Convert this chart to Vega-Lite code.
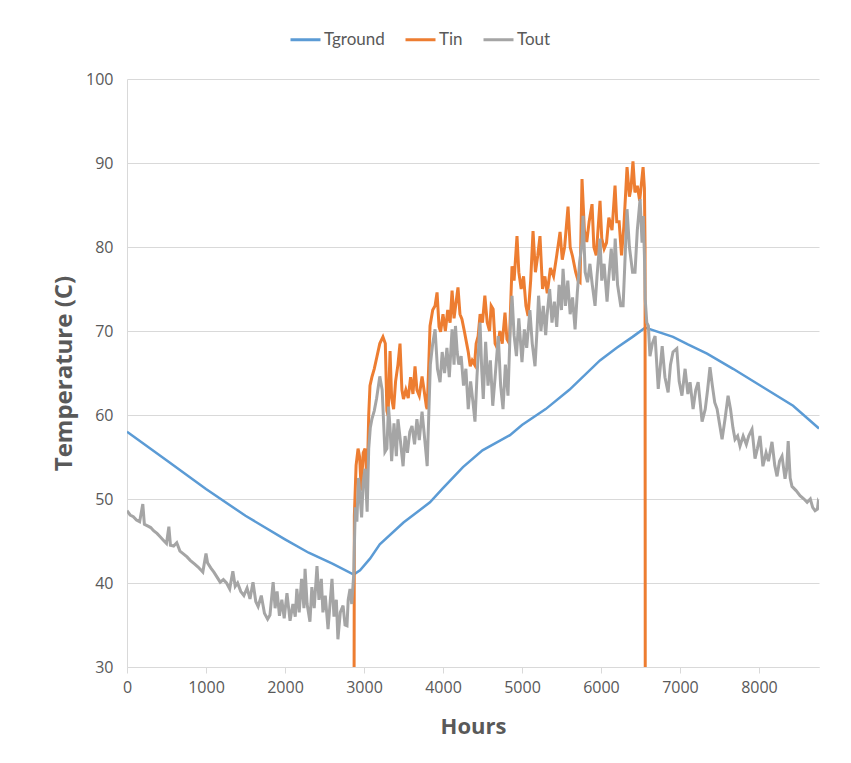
{
  "$schema": "https://vega.github.io/schema/vega-lite/v6.json",
  "width": 692,
  "height": 588,
  "autosize": "none",
  "padding": {"left": 127, "top": 79, "right": 32, "bottom": 96},
  "background": "white",
  "config": {
    "view": {"stroke": null},
    "axis": {"labelFont": "Open Sans", "titleFont": "Open Sans", "labelColor": "#595959", "titleColor": "#595959", "labelFontSize": 16, "titleFontSize": 21, "titleFontWeight": "bold", "domainColor": "#D9D9D9", "tickColor": "#D9D9D9", "gridColor": "#D9D9D9"}
  },
  "encoding": {
    "x": {"field": "h", "type": "quantitative", "title": "Hours",
      "scale": {"domain": [0, 8760], "nice": false},
      "axis": {"values": [0, 1000, 2000, 3000, 4000, 5000, 6000, 7000, 8000], "format": "d", "grid": false, "tickSize": 6, "labelPadding": 6, "labelFlush": false, "titlePadding": 21, "titleFontSize": 22}},
    "y": {"field": "t", "type": "quantitative", "title": "Temperature (C)",
      "scale": {"domain": [30, 100], "nice": false},
      "axis": {"values": [30, 40, 50, 60, 70, 80, 90, 100], "ticks": false, "labelPadding": 14, "titlePadding": 9, "titleFontSize": 24}},
    "color": {"datum": "Tground", "type": "nominal",
      "scale": {"domain": ["Tground", "Tin", "Tout"], "range": ["#5B9BD5", "#ED7D31", "#A5A5A5"]},
      "legend": {"title": null, "orient": "none", "direction": "horizontal", "legendX": 162, "legendY": -56, "symbolType": "stroke", "symbolSize": 900, "symbolStrokeWidth": 3, "labelFont": "Lato", "labelFontSize": 17, "labelColor": "#595959", "columnPadding": 14, "labelOffset": 2}}
  },
  "layer": [
    {
      "data": {"values": [
        {"h":0,"t":58.0},{"h":500,"t":54.6},{"h":1000,"t":51.2},{"h":1500,"t":48.0},{"h":2000,"t":45.2},{"h":2300,"t":43.6},{"h":2600,"t":42.3},{"h":2870,"t":41.0},{"h":2950,"t":41.5},{"h":3076,"t":42.9},{"h":3200,"t":44.6},{"h":3500,"t":47.2},{"h":3835,"t":49.6},{"h":4000,"t":51.3},{"h":4253,"t":53.8},{"h":4500,"t":55.8},{"h":4848,"t":57.6},{"h":5000,"t":58.8},{"h":5300,"t":60.7},{"h":5600,"t":63.0},{"h":5987,"t":66.5},{"h":6200,"t":68.0},{"h":6400,"t":69.3},{"h":6560,"t":70.4},{"h":6912,"t":69.3},{"h":7100,"t":68.4},{"h":7343,"t":67.3},{"h":7672,"t":65.5},{"h":8052,"t":63.3},{"h":8432,"t":61.1},{"h":8760,"t":58.4}
      ]},
      "mark": {"type": "line", "strokeWidth": 2.5, "clip": true},
      "encoding": {"color": {"datum": "Tground"}}
    },
    {
      "data": {"values": [
        {"h":2870,"t":0},{"h":2878,"t":48.0},{"h":2900,"t":54.0},{"h":2925,"t":56.0},{"h":2945,"t":55.0},{"h":2965,"t":51.0},{"h":2990,"t":55.5},{"h":3013,"t":56.0},{"h":3040,"t":52.0},{"h":3060,"t":60.0},{"h":3076,"t":63.5},{"h":3100,"t":64.5},{"h":3130,"t":65.5},{"h":3165,"t":67.0},{"h":3200,"t":68.5},{"h":3240,"t":69.3},{"h":3270,"t":68.5},{"h":3290,"t":60.5},{"h":3305,"t":59.9},{"h":3330,"t":67.6},{"h":3350,"t":62.0},{"h":3375,"t":60.7},{"h":3400,"t":64.0},{"h":3430,"t":66.0},{"h":3456,"t":68.5},{"h":3480,"t":63.0},{"h":3500,"t":61.9},{"h":3530,"t":63.0},{"h":3560,"t":62.0},{"h":3590,"t":64.5},{"h":3620,"t":62.5},{"h":3646,"t":65.8},{"h":3670,"t":63.0},{"h":3700,"t":62.3},{"h":3735,"t":64.6},{"h":3760,"t":63.0},{"h":3790,"t":61.0},{"h":3800,"t":60.7},{"h":3820,"t":66.0},{"h":3836,"t":70.6},{"h":3870,"t":72.5},{"h":3900,"t":73.0},{"h":3925,"t":74.6},{"h":3950,"t":70.5},{"h":3970,"t":69.9},{"h":4000,"t":72.0},{"h":4030,"t":70.0},{"h":4060,"t":72.5},{"h":4090,"t":71.0},{"h":4115,"t":74.8},{"h":4140,"t":71.5},{"h":4160,"t":73.0},{"h":4190,"t":75.2},{"h":4215,"t":72.0},{"h":4240,"t":71.4},{"h":4270,"t":70.0},{"h":4300,"t":68.5},{"h":4320,"t":67.5},{"h":4345,"t":65.8},{"h":4370,"t":66.5},{"h":4400,"t":66.0},{"h":4420,"t":68.5},{"h":4445,"t":69.4},{"h":4470,"t":72.0},{"h":4500,"t":71.0},{"h":4530,"t":74.2},{"h":4560,"t":71.0},{"h":4590,"t":70.0},{"h":4610,"t":73.0},{"h":4635,"t":72.6},{"h":4660,"t":68.5},{"h":4690,"t":67.9},{"h":4720,"t":70.0},{"h":4750,"t":68.5},{"h":4785,"t":72.2},{"h":4810,"t":69.0},{"h":4840,"t":68.5},{"h":4860,"t":74.0},{"h":4874,"t":77.7},{"h":4900,"t":76.0},{"h":4937,"t":81.3},{"h":4960,"t":77.0},{"h":4990,"t":75.0},{"h":5020,"t":76.5},{"h":5050,"t":73.0},{"h":5077,"t":71.8},{"h":5110,"t":76.0},{"h":5140,"t":81.9},{"h":5170,"t":77.0},{"h":5200,"t":79.0},{"h":5228,"t":81.3},{"h":5260,"t":75.0},{"h":5290,"t":76.5},{"h":5320,"t":74.5},{"h":5360,"t":77.5},{"h":5400,"t":76.5},{"h":5440,"t":79.0},{"h":5482,"t":81.8},{"h":5510,"t":78.5},{"h":5540,"t":80.0},{"h":5583,"t":84.8},{"h":5610,"t":80.0},{"h":5640,"t":78.9},{"h":5680,"t":77.0},{"h":5710,"t":76.0},{"h":5735,"t":75.8},{"h":5760,"t":88.1},{"h":5790,"t":82.0},{"h":5820,"t":80.6},{"h":5850,"t":83.0},{"h":5887,"t":85.1},{"h":5910,"t":80.0},{"h":5940,"t":79.0},{"h":5988,"t":85.5},{"h":6010,"t":81.0},{"h":6040,"t":79.8},{"h":6070,"t":80.5},{"h":6100,"t":83.5},{"h":6140,"t":82.0},{"h":6178,"t":87.3},{"h":6200,"t":83.0},{"h":6230,"t":83.0},{"h":6260,"t":79.0},{"h":6290,"t":82.5},{"h":6330,"t":89.5},{"h":6360,"t":86.0},{"h":6380,"t":87.0},{"h":6405,"t":90.2},{"h":6430,"t":86.5},{"h":6460,"t":87.3},{"h":6490,"t":85.5},{"h":6533,"t":89.5},{"h":6550,"t":87.0},{"h":6558,"t":80.0},{"h":6562,"t":0}
      ]},
      "mark": {"type": "line", "strokeWidth": 3, "clip": true},
      "encoding": {"color": {"datum": "Tin"}}
    },
    {
      "data": {"values": [
        {"h":0,"t":48.6},{"h":40,"t":48.1},{"h":80,"t":47.9},{"h":120,"t":47.5},{"h":160,"t":47.3},{"h":200,"t":49.4},{"h":220,"t":47.0},{"h":260,"t":46.8},{"h":300,"t":46.6},{"h":340,"t":46.2},{"h":380,"t":45.9},{"h":420,"t":45.5},{"h":460,"t":45.1},{"h":500,"t":44.7},{"h":530,"t":46.7},{"h":550,"t":44.5},{"h":590,"t":44.4},{"h":630,"t":44.8},{"h":670,"t":43.8},{"h":710,"t":43.5},{"h":760,"t":43.1},{"h":800,"t":42.7},{"h":850,"t":42.3},{"h":900,"t":41.9},{"h":960,"t":41.3},{"h":1000,"t":43.5},{"h":1020,"t":42.4},{"h":1060,"t":41.8},{"h":1100,"t":41.3},{"h":1140,"t":40.7},{"h":1180,"t":40.1},{"h":1220,"t":40.4},{"h":1260,"t":40.0},{"h":1300,"t":39.3},{"h":1340,"t":41.4},{"h":1370,"t":39.6},{"h":1400,"t":40.0},{"h":1440,"t":39.0},{"h":1480,"t":38.5},{"h":1520,"t":39.4},{"h":1557,"t":38.1},{"h":1595,"t":40.1},{"h":1630,"t":37.8},{"h":1660,"t":37.2},{"h":1700,"t":38.5},{"h":1740,"t":36.4},{"h":1780,"t":35.7},{"h":1810,"t":36.2},{"h":1850,"t":40.1},{"h":1875,"t":37.0},{"h":1900,"t":39.0},{"h":1930,"t":36.1},{"h":1960,"t":38.0},{"h":1990,"t":35.8},{"h":2025,"t":38.8},{"h":2064,"t":35.5},{"h":2100,"t":37.5},{"h":2130,"t":36.0},{"h":2150,"t":39.3},{"h":2180,"t":36.5},{"h":2210,"t":40.5},{"h":2240,"t":37.0},{"h":2254,"t":41.7},{"h":2280,"t":37.5},{"h":2316,"t":35.4},{"h":2340,"t":39.5},{"h":2370,"t":37.0},{"h":2405,"t":42.0},{"h":2430,"t":38.0},{"h":2460,"t":40.5},{"h":2480,"t":36.5},{"h":2510,"t":38.5},{"h":2545,"t":34.5},{"h":2570,"t":37.5},{"h":2595,"t":40.5},{"h":2620,"t":36.0},{"h":2650,"t":38.0},{"h":2670,"t":33.3},{"h":2700,"t":36.5},{"h":2735,"t":37.3},{"h":2760,"t":35.0},{"h":2785,"t":34.9},{"h":2800,"t":38.0},{"h":2823,"t":39.3},{"h":2845,"t":37.5},{"h":2870,"t":41.0},{"h":2890,"t":49.0},{"h":2910,"t":47.3},{"h":2930,"t":52.5},{"h":2950,"t":50.4},{"h":2970,"t":47.8},{"h":2990,"t":52.0},{"h":3013,"t":53.6},{"h":3040,"t":48.5},{"h":3060,"t":56.0},{"h":3080,"t":58.5},{"h":3100,"t":59.5},{"h":3130,"t":60.5},{"h":3160,"t":62.0},{"h":3200,"t":64.6},{"h":3230,"t":63.0},{"h":3265,"t":55.6},{"h":3290,"t":56.0},{"h":3310,"t":61.0},{"h":3330,"t":58.5},{"h":3350,"t":54.5},{"h":3380,"t":59.0},{"h":3410,"t":55.1},{"h":3430,"t":59.5},{"h":3460,"t":57.0},{"h":3495,"t":53.9},{"h":3520,"t":57.5},{"h":3550,"t":55.5},{"h":3580,"t":58.0},{"h":3608,"t":58.7},{"h":3640,"t":56.5},{"h":3670,"t":59.5},{"h":3700,"t":57.0},{"h":3735,"t":60.4},{"h":3760,"t":58.0},{"h":3790,"t":55.0},{"h":3800,"t":53.9},{"h":3820,"t":60.0},{"h":3840,"t":66.0},{"h":3870,"t":68.5},{"h":3900,"t":70.2},{"h":3930,"t":65.5},{"h":3963,"t":63.9},{"h":3990,"t":67.5},{"h":4020,"t":65.0},{"h":4050,"t":68.0},{"h":4080,"t":64.5},{"h":4115,"t":70.2},{"h":4140,"t":66.0},{"h":4158,"t":70.6},{"h":4180,"t":67.5},{"h":4200,"t":66.0},{"h":4230,"t":67.0},{"h":4260,"t":63.5},{"h":4290,"t":65.5},{"h":4320,"t":60.7},{"h":4350,"t":64.0},{"h":4380,"t":61.5},{"h":4405,"t":59.2},{"h":4430,"t":64.5},{"h":4469,"t":71.0},{"h":4490,"t":65.5},{"h":4510,"t":61.9},{"h":4540,"t":68.7},{"h":4570,"t":63.5},{"h":4600,"t":66.5},{"h":4630,"t":61.1},{"h":4660,"t":64.5},{"h":4700,"t":69.4},{"h":4730,"t":63.5},{"h":4760,"t":60.7},{"h":4790,"t":66.0},{"h":4823,"t":62.3},{"h":4850,"t":70.0},{"h":4874,"t":74.2},{"h":4900,"t":69.5},{"h":4930,"t":67.0},{"h":4960,"t":71.5},{"h":5000,"t":66.3},{"h":5030,"t":70.2},{"h":5060,"t":68.0},{"h":5100,"t":72.5},{"h":5130,"t":68.5},{"h":5165,"t":65.8},{"h":5190,"t":70.0},{"h":5210,"t":74.2},{"h":5240,"t":70.0},{"h":5270,"t":73.0},{"h":5300,"t":69.5},{"h":5317,"t":71.8},{"h":5350,"t":75.0},{"h":5380,"t":71.0},{"h":5410,"t":73.5},{"h":5440,"t":70.5},{"h":5470,"t":75.5},{"h":5500,"t":72.5},{"h":5520,"t":77.4},{"h":5550,"t":73.0},{"h":5580,"t":76.0},{"h":5610,"t":72.0},{"h":5640,"t":74.0},{"h":5672,"t":70.2},{"h":5700,"t":74.5},{"h":5730,"t":78.2},{"h":5760,"t":80.5},{"h":5773,"t":83.7},{"h":5800,"t":77.0},{"h":5830,"t":75.8},{"h":5860,"t":78.0},{"h":5890,"t":75.5},{"h":5925,"t":73.0},{"h":5950,"t":76.5},{"h":5988,"t":81.0},{"h":6010,"t":76.0},{"h":6040,"t":78.0},{"h":6077,"t":73.5},{"h":6100,"t":76.5},{"h":6130,"t":79.8},{"h":6160,"t":76.0},{"h":6180,"t":81.0},{"h":6210,"t":75.5},{"h":6250,"t":73.0},{"h":6280,"t":73.0},{"h":6300,"t":77.5},{"h":6330,"t":84.5},{"h":6360,"t":80.0},{"h":6400,"t":77.0},{"h":6431,"t":77.0},{"h":6460,"t":82.0},{"h":6495,"t":85.7},{"h":6520,"t":80.5},{"h":6535,"t":83.7},{"h":6550,"t":79.0},{"h":6560,"t":73.8},{"h":6580,"t":71.0},{"h":6600,"t":70.6},{"h":6620,"t":67.0},{"h":6650,"t":68.5},{"h":6685,"t":69.4},{"h":6725,"t":63.1},{"h":6775,"t":68.2},{"h":6810,"t":64.5},{"h":6850,"t":62.7},{"h":6880,"t":66.0},{"h":6912,"t":67.5},{"h":6960,"t":67.9},{"h":6990,"t":64.0},{"h":7025,"t":62.3},{"h":7065,"t":65.5},{"h":7100,"t":62.5},{"h":7128,"t":63.9},{"h":7166,"t":60.7},{"h":7200,"t":63.0},{"h":7230,"t":63.9},{"h":7280,"t":59.2},{"h":7320,"t":60.7},{"h":7350,"t":63.0},{"h":7380,"t":65.7},{"h":7410,"t":63.5},{"h":7440,"t":61.5},{"h":7470,"t":60.7},{"h":7500,"t":59.0},{"h":7533,"t":57.1},{"h":7570,"t":59.5},{"h":7609,"t":62.3},{"h":7640,"t":60.7},{"h":7670,"t":58.5},{"h":7697,"t":57.1},{"h":7730,"t":57.5},{"h":7760,"t":56.3},{"h":7800,"t":57.5},{"h":7840,"t":56.5},{"h":7870,"t":57.5},{"h":7912,"t":58.3},{"h":7950,"t":54.8},{"h":7980,"t":56.0},{"h":8013,"t":57.5},{"h":8050,"t":53.9},{"h":8090,"t":55.5},{"h":8120,"t":54.5},{"h":8165,"t":56.8},{"h":8200,"t":54.0},{"h":8229,"t":52.7},{"h":8260,"t":54.5},{"h":8292,"t":55.1},{"h":8330,"t":52.4},{"h":8350,"t":53.5},{"h":8370,"t":56.9},{"h":8395,"t":52.5},{"h":8418,"t":51.5},{"h":8470,"t":51.0},{"h":8520,"t":50.4},{"h":8570,"t":50.0},{"h":8610,"t":49.6},{"h":8650,"t":50.0},{"h":8680,"t":49.0},{"h":8710,"t":48.6},{"h":8740,"t":48.8},{"h":8750,"t":49.6},{"h":8760,"t":49.4}
      ]},
      "mark": {"type": "line", "strokeWidth": 3, "clip": true},
      "encoding": {"color": {"datum": "Tout"}}
    }
  ]
}
